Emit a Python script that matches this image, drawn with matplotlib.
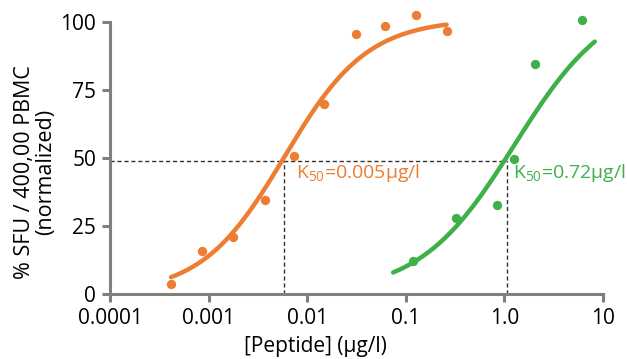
import numpy as np
import matplotlib
matplotlib.use("Agg")
import matplotlib.pyplot as plt

plt.rcParams['font.family'] = ['Open Sans', 'DejaVu Sans']
plt.rcParams['mathtext.default'] = 'regular'

orange_x = [4.13e-4, 8.51e-4, 1.78e-3, 3.73e-3, 7.4e-3, 0.0149, 0.0313, 0.0619, 0.127, 0.26]
orange_y = [3.6, 15.8, 20.9, 34.6, 50.6, 69.7, 95.7, 98.5, 102.5, 96.5]
green_x = [0.119, 0.321, 0.836, 1.25, 2.03, 6.17]
green_y = [12.2, 27.9, 32.8, 49.6, 84.4, 100.6]

# Hill fit parameters (top, ec50, slope) and curve ranges
orange_fit = (101.0, 0.0059, 1.03)
green_fit = (110.0, 1.28, 0.9)
orange_range = (4.16e-4, 0.26)
green_range = (0.0746, 8.3)

# K50 markers
k50_level = 49
orange_k50 = 0.0058
green_k50 = 1.06
orange_label = 'K$_{50}$=0.005µg/l'
green_label = 'K$_{50}$=0.72µg/l'

xticks = [1e-4, 1e-3, 1e-2, 1e-1, 1, 10]
xticklabels = ['0.0001', '0.001', '0.01', '0.1', '1.0', '10']
yticks = [0, 25, 50, 75, 100]

ORANGE = '#ED7D31'
GREEN = '#3DB04A'
GREY = '#7F7F7F'


def hill(x, top, ec50, n):
	return top / (1 + (ec50 / x) ** n)


fig = plt.figure(figsize=(6.27, 3.59), dpi=100)
ax = fig.add_axes([0.1754, 0.181, 0.786, 0.758])

# dashed guide lines
ax.plot([1e-4, green_k50], [k50_level, k50_level], color='#333333', lw=1, dashes=(3, 2))
ax.plot([orange_k50, orange_k50], [0, k50_level], color='#333333', lw=1, dashes=(3, 2))
ax.plot([green_k50, green_k50], [0, k50_level], color='#333333', lw=1, dashes=(3, 2))

# fitted curves
xs = np.logspace(np.log10(orange_range[0]), np.log10(orange_range[1]), 200)
ax.plot(xs, hill(xs, *orange_fit), color=ORANGE, lw=3.2, solid_capstyle='round')
xs = np.logspace(np.log10(green_range[0]), np.log10(green_range[1]), 200)
ax.plot(xs, hill(xs, *green_fit), color=GREEN, lw=3.2, solid_capstyle='round')

# data points
ax.scatter(orange_x, orange_y, s=45, color=ORANGE, zorder=3, clip_on=False, linewidths=0)
ax.scatter(green_x, green_y, s=45, color=GREEN, zorder=3, clip_on=False, linewidths=0)

ax.text(0.0077, 42.8, orange_label, color=ORANGE, fontsize=14, va='baseline', ha='left')
ax.text(1.22, 42.8, green_label, color=GREEN, fontsize=14, va='baseline', ha='left')

ax.set_xscale('log')
ax.set_xlim(1e-4, 10)
ax.set_ylim(0, 100)
ax.set_xticks(xticks)
ax.set_xticklabels(xticklabels)
ax.minorticks_off()
ax.set_yticks(yticks)

for side in ['top', 'right']:
	ax.spines[side].set_visible(False)
for side in ['left', 'bottom']:
	ax.spines[side].set_color(GREY)
	ax.spines[side].set_linewidth(2.2)
ax.tick_params(axis='both', colors=GREY, width=2.2, length=6, labelsize=15, labelcolor='black', pad=4)

ax.set_xlabel('[Peptide] (µg/l)', fontsize=15)
ax.xaxis.set_label_coords(0.416, -0.155)
ax.set_ylabel('% SFU / 400,00 PBMC\n(normalized)', fontsize=15.5, linespacing=1.0)
ax.yaxis.set_label_coords(-0.11, 0.45)

fig.savefig('out.png', dpi=100)
